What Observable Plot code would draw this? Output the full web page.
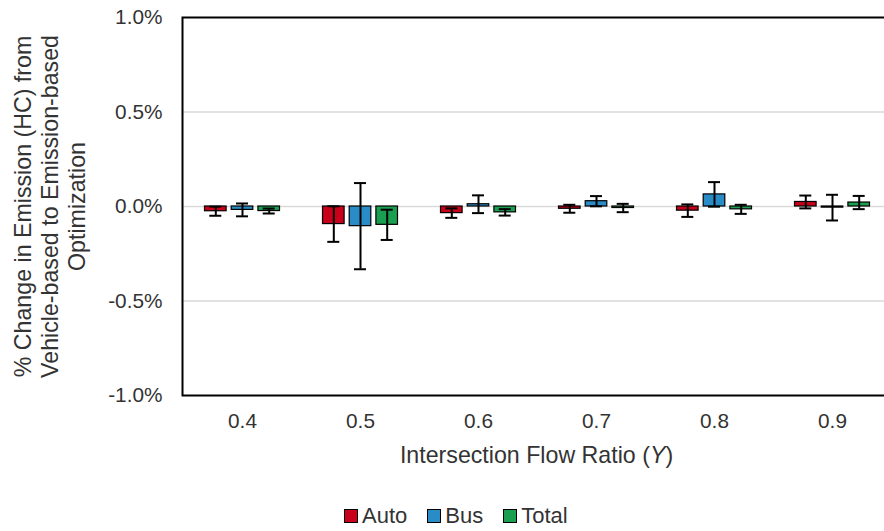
<!DOCTYPE html>
<html>
<head>
<meta charset="utf-8">
<script src="https://cdn.jsdelivr.net/npm/d3@7"></script>
<script src="https://cdn.jsdelivr.net/npm/@observablehq/plot@0.6"></script>
<style>
  html, body { margin: 0; padding: 0; background: #fff; overflow: hidden; }
  #wrap { position: relative; width: 884px; height: 531px; font-family: "Liberation Sans", Arial, sans-serif; color: #333; }
  #chart { position: absolute; left: 0; top: 0; }
  #xtitle { position: absolute; left: 0; width: 1073px; top: 442px; text-align: center; font-size: 23.2px; line-height: 26px; white-space: nowrap; }
  #legend { position: absolute; left: 344px; top: 503px; font-size: 22px; line-height: 26px; display: flex; white-space: nowrap; }
  #legend .item { display: flex; align-items: baseline; margin-right: 20px; }
  #legend .sw { display: inline-block; width: 12px; height: 12px; border: 1px solid #000; margin-right: 4px; }
</style>
</head>
<body>
<div id="wrap">
  <div id="chart"></div>
  <div id="xtitle">Intersection Flow Ratio (<i>Y</i>)</div>
  <div id="legend"></div>
</div>
<script>
// ---- data (values in %) ----
const groups = ["0.4", "0.5", "0.6", "0.7", "0.8", "0.9"];
const seriesNames = ["Auto", "Bus", "Total"];
const autoValues  = [-0.025, -0.093, -0.035, -0.012, -0.022, 0.024];
const busValues   = [-0.018, -0.104,  0.012,  0.028,  0.064, -0.006];
const totalValues = [-0.024, -0.097, -0.031, -0.008, -0.015, 0.021];
const autoErrors  = [0.024, 0.094, 0.025, 0.021, 0.033, 0.034];
const busErrors   = [0.034, 0.228, 0.047, 0.027, 0.065, 0.068];
const totalErrors = [0.013, 0.080, 0.017, 0.022, 0.024, 0.035];
const yTicks = [-1.0, -0.5, 0.0, 0.5, 1.0];
const gridTicks = [-0.5, 0.0, 0.5];
const yLabel = "% Change in Emission (HC) from\nVehicle-based to Emission-based\nOptimization";

const colors = ["#C8001A", "#2A8CC6", "#1A9E50"];
const offsets = [-26.7, 0, 26.7];

const valuesBySeries = [autoValues, busValues, totalValues];
const errorsBySeries = [autoErrors, busErrors, totalErrors];
const rows = seriesNames.map((s, j) => groups.map((g, i) => ({
  group: g, series: s, value: valuesBySeries[j][i], err: errorsBySeries[j][i]
})));

const barInset = (118 - 21.6) / 2;
const capInset = (118 - 12) / 2;

const marks = [
  Plot.ruleY(gridTicks, {stroke: "#D9D9D9", strokeWidth: 1.5}),
  Plot.frame({stroke: "#000", strokeWidth: 2}),
];
rows.forEach((data, j) => {
  marks.push(Plot.barY(data, {x: "group", y: "value", fill: "series", stroke: "#000", strokeWidth: 1.2,
    dx: offsets[j], insetLeft: barInset, insetRight: barInset}));
});
rows.forEach((data, j) => {
  marks.push(Plot.ruleX(data, {x: "group", y1: d => d.value - d.err, y2: d => d.value + d.err,
    stroke: "#000", strokeWidth: 2, dx: offsets[j]}));
  marks.push(Plot.tickY(data, {x: "group", y: d => d.value - d.err, stroke: "#000", strokeWidth: 2,
    dx: offsets[j], insetLeft: capInset, insetRight: capInset}));
  marks.push(Plot.tickY(data, {x: "group", y: d => d.value + d.err, stroke: "#000", strokeWidth: 2,
    dx: offsets[j], insetLeft: capInset, insetRight: capInset}));
});
marks.push(Plot.text([yLabel], {frameAnchor: "left", dx: -133, rotate: -90, fontSize: 23.2,
  lineHeight: 1.16, fill: "#333", textAnchor: "middle", lineAnchor: "middle"}));

const chart = Plot.plot({
  width: 884,
  height: 440,
  marginLeft: 182,
  marginRight: -7,
  marginTop: 17,
  marginBottom: 45,
  style: {fontFamily: "'Liberation Sans', Arial, sans-serif", fontSize: "20.8px", color: "#333", background: "#fff", overflow: "hidden"},
  x: {domain: groups, padding: 0, tickSize: 0, tickPadding: 18, label: null},
  y: {domain: [-1, 1], ticks: yTicks, tickFormat: d => d.toFixed(1) + "%", tickSize: 0, tickPadding: 20, label: null},
  color: {domain: seriesNames, range: colors},
  marks
});
document.getElementById("chart").appendChild(chart);

const legend = document.getElementById("legend");
seriesNames.forEach((s, j) => {
  const item = document.createElement("span");
  item.className = "item";
  const sw = document.createElement("span");
  sw.className = "sw";
  sw.style.background = colors[j];
  item.appendChild(sw);
  item.appendChild(document.createTextNode(s));
  legend.appendChild(item);
});
</script>
</body>
</html>
